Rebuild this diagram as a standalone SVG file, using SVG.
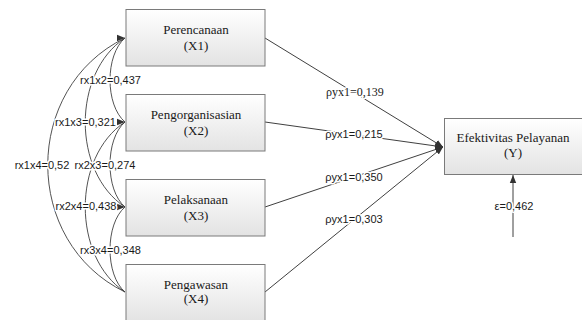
<svg xmlns="http://www.w3.org/2000/svg" width="582" height="320" viewBox="0 0 582 320">
<style>
.box{fill:url(#g);stroke:#7a7a7a;stroke-width:1}
.bt{font-family:"Liberation Serif",serif;font-size:13px;fill:#1a1a1a;text-anchor:middle}
.lbl{font-family:"Liberation Sans",sans-serif;font-size:11px;fill:#1a1a1a;text-anchor:middle;stroke:#fff;stroke-width:3;paint-order:stroke;stroke-linejoin:round}
.lbs{font-family:"Liberation Serif",serif;font-size:12px;fill:#1a1a1a;text-anchor:middle;stroke:#fff;stroke-width:3;paint-order:stroke;stroke-linejoin:round}
.c{fill:none;stroke:#404040;stroke-width:0.9}
.p{fill:none;stroke:#404040;stroke-width:1;marker-end:url(#ah)}
</style>
<defs>
<linearGradient id="g" x1="0" y1="0" x2="0" y2="1">
<stop offset="0" stop-color="#ffffff"/>
<stop offset="1" stop-color="#e3e3e3"/>
</linearGradient>
<marker id="ah" viewBox="0 0 10 10" refX="10" refY="5" markerWidth="8" markerHeight="8" markerUnits="userSpaceOnUse" orient="auto">
<path d="M0,1 L10,5 L0,9 z" fill="#333"/>
</marker>
<marker id="ar" viewBox="0 0 10 10" refX="10" refY="5" markerWidth="8" markerHeight="8" markerUnits="userSpaceOnUse" orient="0">
<path d="M0,1 L10,5 L0,9 z" fill="#333"/>
</marker>
</defs>
<g id="connectors">
<path class="c" d="M125,38 C22,88 22,242 125,292" marker-start="url(#ar)"/>
<path class="c" d="M125,38 C72,73 72,172 125,207"/>
<path class="c" d="M125,38 C105,55 105,105 125,122" marker-end="url(#ar)"/>
<path class="c" d="M125,122 C105,139 105,190 125,207" marker-end="url(#ar)"/>
<path class="c" d="M125,122 C72,157 72,257 125,292"/>
<path class="c" d="M125,207 C105,224 105,275 125,292"/>
<line class="p" x1="265" y1="38" x2="443" y2="147"/>
<line class="p" x1="265" y1="122" x2="443" y2="147"/>
<line class="p" x1="265" y1="207" x2="443" y2="147"/>
<line class="p" x1="265" y1="292" x2="443" y2="147"/>
<line class="p" x1="513" y1="237" x2="513" y2="175"/>
<text class="lbl" x="110.5" y="84">rx1x2=0,437</text>
<text class="lbl" x="85.5" y="126">rx1x3=0,321</text>
<text class="lbl" x="42" y="169">rx1x4=0,52</text>
<text class="lbl" x="105" y="169">rx2x3=0,274</text>
<text class="lbl" x="86" y="210">rx2x4=0,438</text>
<text class="lbl" x="110.5" y="254">rx3x4=0,348</text>
<text class="lbs" x="355" y="96">ρyx1=0,139</text>
<text class="lbl" x="354" y="138">ρyx1=0,215</text>
<text class="lbl" x="354" y="181">ρyx1=0,350</text>
<text class="lbl" x="354" y="223">ρyx1=0,303</text>
<text class="lbl" x="514" y="210">ε=0,462</text>
</g>
<g id="x1"><rect class="box" x="126" y="9.5" width="139" height="56.5"/><text class="bt" x="196" y="34">Perencanaan</text><text class="bt" x="196" y="50">(X1)</text></g>
<g id="x2"><rect class="box" x="126" y="94.5" width="139" height="56.5"/><text class="bt" x="196" y="119">Pengorganisasian</text><text class="bt" x="196" y="135">(X2)</text></g>
<g id="x3"><rect class="box" x="126" y="179.5" width="139" height="56.5"/><text class="bt" x="196" y="204">Pelaksanaan</text><text class="bt" x="196" y="220">(X3)</text></g>
<g id="x4"><rect class="box" x="126" y="264.5" width="139" height="57"/><text class="bt" x="196" y="289">Pengawasan</text><text class="bt" x="196" y="303">(X4)</text></g>
<g id="y"><rect class="box" x="444.5" y="118.5" width="140" height="56"/><text class="bt" x="513" y="142">Efektivitas Pelayanan</text><text class="bt" x="513" y="157">(Y)</text></g>
</svg>
